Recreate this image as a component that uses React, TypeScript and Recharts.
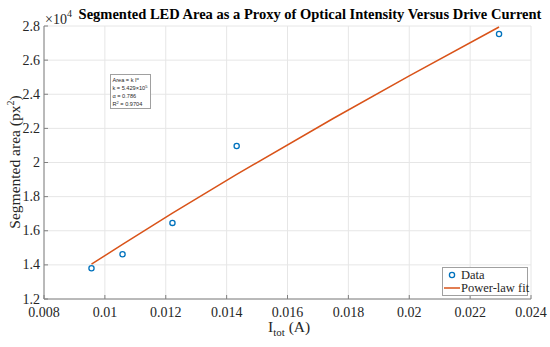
import { ComposedChart, Scatter, Line, XAxis, YAxis, CartesianGrid } from 'recharts';

// measured points
const currentA = [0.00956, 0.01058, 0.01222, 0.01433, 0.02295];
const areaPx = [13800, 14620, 16460, 20970, 27530];

// power-law fit curve
const fitCurrentA = [0.00956, 0.01058, 0.01222, 0.01433, 0.0175, 0.02, 0.02295];
const fitAreaPx = [14040, 15200, 17030, 19300, 22580, 25080, 27940];

const xTicks = [0.008, 0.01, 0.012, 0.014, 0.016, 0.018, 0.02, 0.022, 0.024];
const yTicks = [12000, 14000, 16000, 18000, 20000, 22000, 24000, 26000, 28000];

const pointData = currentA.map((x, i) => ({ x, area: areaPx[i] }));
const fitData = fitCurrentA.map((x, i) => ({ x, area: fitAreaPx[i] }));

const serif = '"Liberation Serif", "Times New Roman", serif';
const sans = '"Liberation Sans", Arial, sans-serif';
const axisGray = '#808080';
const textGray = '#262626';

const OpenCircle = (props: any) => {
  const { cx, cy } = props;
  return <circle cx={cx} cy={cy} r={2.6} fill="none" stroke="#0072BD" strokeWidth={1.3} />;
};

// matlab-style: inward tick marks, labels outside
const XTick = (props: any) => {
  const { x, payload } = props;
  return (
    <g>
      <line x1={x} y1={299} x2={x} y2={295} stroke={axisGray} strokeWidth={1} />
      <text x={x} y={316.5} textAnchor="middle" fontFamily={serif} fontSize={14} fill={textGray}>
        {String(payload.value)}
      </text>
    </g>
  );
};

const YTick = (props: any) => {
  const { y, payload } = props;
  return (
    <g>
      <line x1={44} y1={y} x2={48} y2={y} stroke={axisGray} strokeWidth={1} />
      <text x={40} y={y + 4.5} textAnchor="end" fontFamily={serif} fontSize={14} fill={textGray}>
        {String(payload.value / 10000)}
      </text>
    </g>
  );
};

export default function App() {
  return (
    <div style={{ position: 'absolute', left: 0, top: 0, width: 550, height: 347, background: '#fff', fontFamily: serif }}>
      <ComposedChart
        width={550}
        height={347}
        margin={{ top: 26, right: 19, left: 0, bottom: 0 }}
      >
        <CartesianGrid stroke="#e6e6e6" strokeWidth={1} />
        <XAxis
          dataKey="x"
          type="number"
          domain={[0.008, 0.024]}
          ticks={xTicks}
          height={48}
          tickLine={false}
          stroke={axisGray}
          tick={XTick}
          interval={0}
          allowDataOverflow
        />
        <YAxis
          dataKey="area"
          type="number"
          domain={[12000, 28000]}
          ticks={yTicks}
          width={44}
          tickLine={false}
          stroke={axisGray}
          tick={YTick}
          interval={0}
          allowDataOverflow
        />
        <Line
          data={fitData}
          dataKey="area"
          type="linear"
          stroke="#D95319"
          strokeWidth={1.5}
          dot={false}
          activeDot={false}
          isAnimationActive={false}
        />
        <Scatter data={pointData} dataKey="area" shape={OpenCircle} isAnimationActive={false} />
      </ComposedChart>

      <svg style={{ position: 'absolute', left: 0, top: 0, pointerEvents: 'none' }} width={550} height={347}>
        <text x={310} y={19} textAnchor="middle" fontFamily={serif} fontWeight="bold" fontSize={14.5} fill="#000">
          Segmented LED Area as a Proxy of Optical Intensity Versus Drive Current
        </text>
        <text x={45} y={23.5} fontFamily={serif} fontSize={14} fill={textGray}>
          ×10<tspan dy={-7} fontSize={10}>4</tspan>
        </text>
        <text transform="translate(20,162) rotate(-90)" textAnchor="middle" fontFamily={serif} fontSize={15.5} fill={textGray}>
          Segmented area (px<tspan dy={-6} fontSize={10}>2</tspan><tspan dy={6}>)</tspan>
        </text>
        <text x={268} y={332} fontFamily={serif} fontSize={15.5} fill={textGray}>
          I<tspan dy={4} fontSize={11}>tot</tspan><tspan dy={-4}> (A)</tspan>
        </text>

        {/* fit annotation */}
        <rect x={110.5} y={74.5} width={40} height={34} fill="#fff" stroke="#a0a0a0" strokeWidth={1} />
        <g fontFamily={sans} fontSize={5.6} fill={textGray}>
          <text x={112.5} y={82}>Area = k I<tspan dy={-2} fontSize={4}>α</tspan></text>
          <text x={112.5} y={90}>k = 5.429×10<tspan dy={-2} fontSize={4}>5</tspan></text>
          <text x={112.5} y={98}>α = 0.786</text>
          <text x={112.5} y={106}>R<tspan dy={-2} fontSize={4}>2</tspan><tspan dy={2}> = 0.9704</tspan></text>
        </g>

        {/* legend */}
        <rect x={442.5} y={267.5} width={85} height={28} fill="#fff" stroke="#a0a0a0" strokeWidth={1} />
        <circle cx={452} cy={275} r={2.6} fill="none" stroke="#0072BD" strokeWidth={1.3} />
        <line x1={444} y1={288} x2={460} y2={288} stroke="#D95319" strokeWidth={1.5} />
        <g fontFamily={serif} fontSize={12.5} fill={textGray}>
          <text x={461} y={279}>Data</text>
          <text x={461} y={292}>Power-law fit</text>
        </g>
      </svg>
    </div>
  );
}
